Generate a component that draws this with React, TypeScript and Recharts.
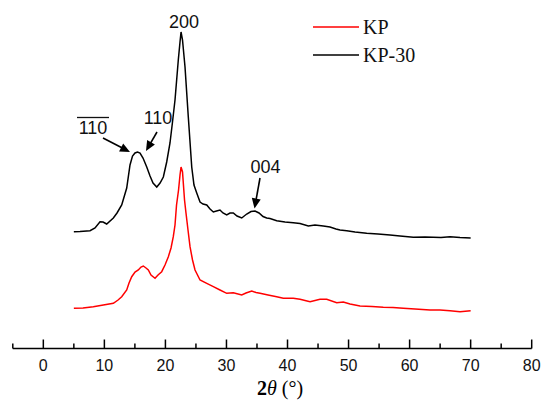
import React from 'react';
import { LineChart, Line, XAxis, YAxis, Legend } from 'recharts';

// 2θ (degrees) and intensity (a.u., offset for display)
const kp30X = [5.0, 6.01, 7.65, 8.47, 9.29, 9.78, 10.38, 11.47, 12.07, 12.84, 13.66, 14.2, 14.61, 15.02, 15.43, 15.84, 16.33, 16.94, 17.48, 17.97, 18.58, 19.12, 19.66, 20.21, 20.75, 21.16, 21.57, 22.11, 22.39, 22.56, 22.8, 23.21, 23.75, 24.31, 24.68, 25.13, 25.67, 26.16, 26.77, 27.31, 27.85, 28.37, 28.94, 29.43, 30.04, 30.58, 31.12, 31.73, 32.5, 33.32, 34.02, 34.68, 35.33, 35.99, 36.59, 37.13, 38.23, 39.59, 40.95, 42.05, 43.41, 44.5, 45.86, 46.96, 47.94, 48.6, 49.7, 51.06, 52.97, 54.82, 56.79, 58.43, 60.61, 62.52, 63.88, 65.14, 66.62, 68.26, 70.0];
const kp30Y = [115.3, 115.5, 116.3, 119, 125.3, 125, 123, 129, 134, 142, 159, 182, 191, 194, 195, 194, 189, 180, 171, 164, 160, 164, 170, 185, 204, 225, 247, 287, 305, 315, 307, 280, 230, 180, 162, 154, 145, 143, 142, 138, 135, 136, 137, 134, 132, 134, 134, 131, 129, 133, 135.5, 136, 134, 130.5, 129, 128.5, 126.3, 125, 124.3, 123.5, 121, 122, 121, 120, 118, 117, 116.3, 115, 113.7, 113, 112, 111, 109.7, 110, 109.7, 109.5, 110.3, 109.5, 109];

const kpX = [5.0, 6.5, 8.19, 9.83, 11.47, 12.24, 12.84, 13.66, 14.04, 14.48, 15.02, 15.56, 16.0, 16.38, 16.82, 17.2, 17.64, 18.3, 18.79, 19.39, 19.93, 20.48, 20.92, 21.29, 21.57, 21.82, 22.15, 22.39, 22.56, 22.8, 23.13, 23.37, 23.7, 24.03, 24.44, 24.85, 25.67, 26.77, 27.85, 28.94, 30.04, 31.12, 32.5, 33.2, 34.14, 34.84, 35.5, 36.81, 38.23, 39.31, 40.95, 42.05, 43.69, 45.32, 46.42, 48.06, 49.14, 50.24, 51.88, 53.84, 55.69, 57.28, 58.97, 60.88, 63.34, 64.98, 66.62, 68.26, 70.0];
const kpY = [38.7, 39, 40.3, 42, 43.7, 47, 50.3, 57, 64, 70.3, 75, 77, 80, 81, 79, 77, 72, 68.7, 72, 75.3, 82, 90.3, 99, 110.3, 122, 142, 157, 172, 180, 175, 147, 134, 117, 100.3, 87, 77, 67, 63.7, 60.3, 57, 53.7, 54.3, 52, 54, 56, 54.5, 53.7, 52, 50.3, 48.7, 48.7, 47.7, 45.3, 47.7, 47.7, 44.3, 45, 43, 41, 40.5, 39.7, 39.5, 38.7, 38, 37, 37, 36.3, 35.3, 36.3];

const xTicks = [-5, 0, 5, 10, 15, 20, 25, 30, 35, 40, 45, 50, 55, 60, 65, 70, 75, 80];
const seriesNames = ['KP', 'KP-30'];
const seriesColors = ['#ff0000', '#000000'];

const kpData = kpX.map((x, i) => ({ x, y: kpY[i] }));
const kp30Data = kp30X.map((x, i) => ({ x, y: kp30Y[i] }));

const SANS = '"Liberation Sans", Arial, sans-serif';
const SERIF = '"Liberation Serif", "Times New Roman", serif';

const Tick = (props: any) => {
  const { x, y, payload } = props;
  const v = payload.value;
  const major = v % 10 === 0;
  return (
    <g>
      <line x1={x} x2={x} y1={y} y2={y - (major ? 9 : 5)} stroke="#000" strokeWidth={1.5} />
      {major && (
        <text x={x} y={y + 22.5} textAnchor="middle" fontFamily={SANS} fontSize={16} fill="#111">
          {v}
        </text>
      )}
    </g>
  );
};

const AxisTitle = () => (
  <text x={280} y={395} textAnchor="middle" fontFamily={SERIF} fontSize={20} fill="#000">
    <tspan fontWeight="bold">2</tspan>
    <tspan fontStyle="italic">θ</tspan>
    <tspan> (°)</tspan>
  </text>
);

const LegendContent = () => (
  <div style={{ fontFamily: SERIF, fontSize: 20, color: '#111' }}>
    {seriesNames.map((n, i) => (
      <div key={n} style={{ display: 'flex', alignItems: 'center', height: 28 }}>
        <svg width={46} height={4} style={{ display: 'block' }}>
          <line x1={0} x2={46} y1={2} y2={2} stroke={seriesColors[i]} strokeWidth={1.5} />
        </svg>
        <span style={{ marginLeft: 4, lineHeight: '28px' }}>{n}</span>
      </div>
    ))}
  </div>
);

const Arrow = ({ x1, y1, x2, y2 }: { x1: number; y1: number; x2: number; y2: number }) => {
  const dx = x2 - x1;
  const dy = y2 - y1;
  const len = Math.sqrt(dx * dx + dy * dy);
  const ux = dx / len;
  const uy = dy / len;
  const hl = 10;
  const hw = 4.5;
  const bx = x2 - ux * hl;
  const by = y2 - uy * hl;
  const pts = `${x2},${y2} ${bx - uy * hw},${by + ux * hw} ${bx + uy * hw},${by - ux * hw}`;
  return (
    <g>
      <line x1={x1} y1={y1} x2={bx + ux * 2} y2={by + uy * 2} stroke="#000" strokeWidth={1.6} />
      <polygon points={pts} fill="#000" />
    </g>
  );
};

export default function App() {
  return (
    <div style={{ position: 'absolute', left: 0, top: 0, width: 542, height: 406, background: '#fff' }}>
      <LineChart width={542} height={406} margin={{ top: 10, right: 10.3, bottom: 0, left: 12.8 }}>
        <XAxis
          type="number"
          dataKey="x"
          domain={[-5, 80]}
          ticks={xTicks}
          interval={0}
          tickSize={0}
          tickMargin={0}
          tickLine={false}
          tick={<Tick />}
          height={57.5}
          axisLine={{ stroke: '#000', strokeWidth: 1.5 }}
          allowDataOverflow
          label={{ content: <AxisTitle /> } as any}
        />
        <YAxis type="number" domain={[-1.5, 337]} hide />
        <Legend
          layout="horizontal"
          verticalAlign="middle"
          align="center"
          wrapperStyle={{ left: 313, top: 13, width: 150, height: 56 }}
          content={<LegendContent />}
        />
        <Line data={kpData} dataKey="y" name={seriesNames[0]} stroke={seriesColors[0]} strokeWidth={1.5} dot={false} type="linear" isAnimationActive={false} />
        <Line data={kp30Data} dataKey="y" name={seriesNames[1]} stroke={seriesColors[1]} strokeWidth={1.5} dot={false} type="linear" isAnimationActive={false} />
      </LineChart>
      <svg width={542} height={406} style={{ position: 'absolute', left: 0, top: 0, pointerEvents: 'none' }}>
        <text x={184} y={28} textAnchor="middle" fontFamily={SANS} fontSize={18} fill="#111">200</text>
        <text x={93} y={134} textAnchor="middle" fontFamily={SANS} fontSize={18} fill="#111">110</text>
        <line x1={77} x2={109} y1={117.5} y2={117.5} stroke="#111" strokeWidth={1.3} />
        <text x={158} y={124} textAnchor="middle" fontFamily={SANS} fontSize={18} fill="#111">110</text>
        <text x={265.5} y={172.5} textAnchor="middle" fontFamily={SANS} fontSize={18} fill="#111">004</text>
        <Arrow x1={103} y1={138} x2={130} y2={152} />
        <Arrow x1={157} y1={132} x2={146} y2={151} />
        <Arrow x1={260} y1={178} x2={254.5} y2={208.5} />
      </svg>
    </div>
  );
}
